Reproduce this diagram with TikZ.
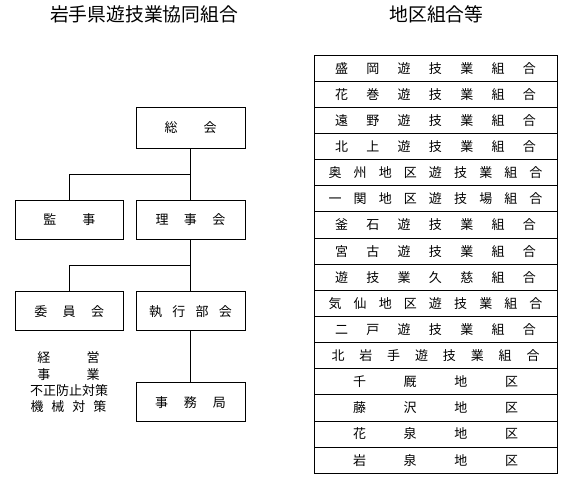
\documentclass[tikz,border=0pt]{standalone}
\usepackage{fontspec}
\setmainfont{Noto Sans CJK JP}
\usetikzlibrary{calc}
\def\chspreadloop#1{\ifx#1\relax\else\hfill#1\expandafter\chspreadloop\fi}
\def\chspreadfirst#1{#1\chspreadloop}
\newcommand\chspread[2]{\makebox[#1][s]{\chspreadfirst#2\relax}}
\begin{document}
\begin{tikzpicture}[x=1pt,y=-1pt,
  every node/.style={inner sep=0pt,outer sep=0pt},
  orgbox/.style={draw,line width=0.9pt,minimum width=109pt,minimum height=39pt,font=\fontsize{13}{15}\selectfont},
  rowbox/.style={draw,line width=0.9pt,minimum width=243pt,minimum height=26.14pt,font=\fontsize{13}{15}\selectfont},
  note/.style={font=\fontsize{13}{15}\selectfont},
  title/.style={font=\fontsize{18.8}{22}\selectfont},
  conn/.style={line width=0.9pt}]
\useasboundingbox (0,0) rectangle (572,481);
% titles
\node[title] (t1) at (144,14) {岩手県遊技業協同組合};
\node[title] (t2) at (436.5,14) {地区組合等};
% organisation boxes
\node[orgbox,minimum height=41pt] (sokai) at (190.5,127.8) {\chspread{52pt}{総会}};
\node[orgbox,minimum width=108.5pt] (kanji) at (69.25,219.5) {\chspread{52pt}{監事}};
\node[orgbox] (riji) at (190.5,219.5) {\chspread{70pt}{理事会}};
\node[orgbox,minimum width=108.5pt] (iin) at (69.25,311.2) {\chspread{70pt}{委員会}};
\node[orgbox] (shikko) at (190.5,311.2) {\chspread{83pt}{執行部会}};
\node[orgbox] (jimu) at (190.5,402.2) {\chspread{71pt}{事務局}};
% connectors
\draw[conn] (sokai.south) -- (riji.north);
\draw[conn] (kanji.north) |- ($(sokai.south)!0.5!(riji.north)$);
\draw[conn] (riji.south) -- (shikko.north);
\draw[conn] (iin.north) |- ($(riji.south)!0.5!(shikko.north)$);
\draw[conn] (shikko.south) -- (jimu.north);
% committee notes
\node[note] (n1) at (68.5,357.3) {\chspread{62.5pt}{経営}};
\node[note] (n2) at (68.5,374.3) {\chspread{62.5pt}{事業}};
\node[note] (n3) at (68.5,390.7) {\chspread{77pt}{不正防止対策}};
\node[note] (n4) at (68.5,406.5) {\chspread{76pt}{機械対策}};
% table
\node[rowbox] (r1) at (435.5,68.07) {\chspread{201pt}{盛岡遊技業組合}};
\node[rowbox] (r2) at (435.5,94.21) {\chspread{201pt}{花巻遊技業組合}};
\node[rowbox] (r3) at (435.5,120.35) {\chspread{201pt}{遠野遊技業組合}};
\node[rowbox] (r4) at (435.5,146.49) {\chspread{201pt}{北上遊技業組合}};
\node[rowbox] (r5) at (435.5,172.63) {\chspread{214pt}{奥州地区遊技業組合}};
\node[rowbox] (r6) at (435.5,198.77) {\chspread{214pt}{一関地区遊技場組合}};
\node[rowbox] (r7) at (435.5,224.91) {\chspread{201pt}{釜石遊技業組合}};
\node[rowbox] (r8) at (435.5,251.05) {\chspread{201pt}{宮古遊技業組合}};
\node[rowbox] (r9) at (435.5,277.19) {\chspread{201pt}{遊技業久慈組合}};
\node[rowbox] (r10) at (435.5,303.33) {\chspread{214pt}{気仙地区遊技業組合}};
\node[rowbox] (r11) at (435.5,329.47) {\chspread{201pt}{二戸遊技業組合}};
\node[rowbox] (r12) at (435.5,355.61) {\chspread{208pt}{北岩手遊技業組合}};
\node[rowbox] (r13) at (435.5,381.75) {\chspread{165pt}{千厩地区}};
\node[rowbox] (r14) at (435.5,407.89) {\chspread{165pt}{藤沢地区}};
\node[rowbox] (r15) at (435.5,434.03) {\chspread{165pt}{花泉地区}};
\node[rowbox] (r16) at (435.5,460.17) {\chspread{165pt}{岩泉地区}};
\end{tikzpicture}
\end{document}
